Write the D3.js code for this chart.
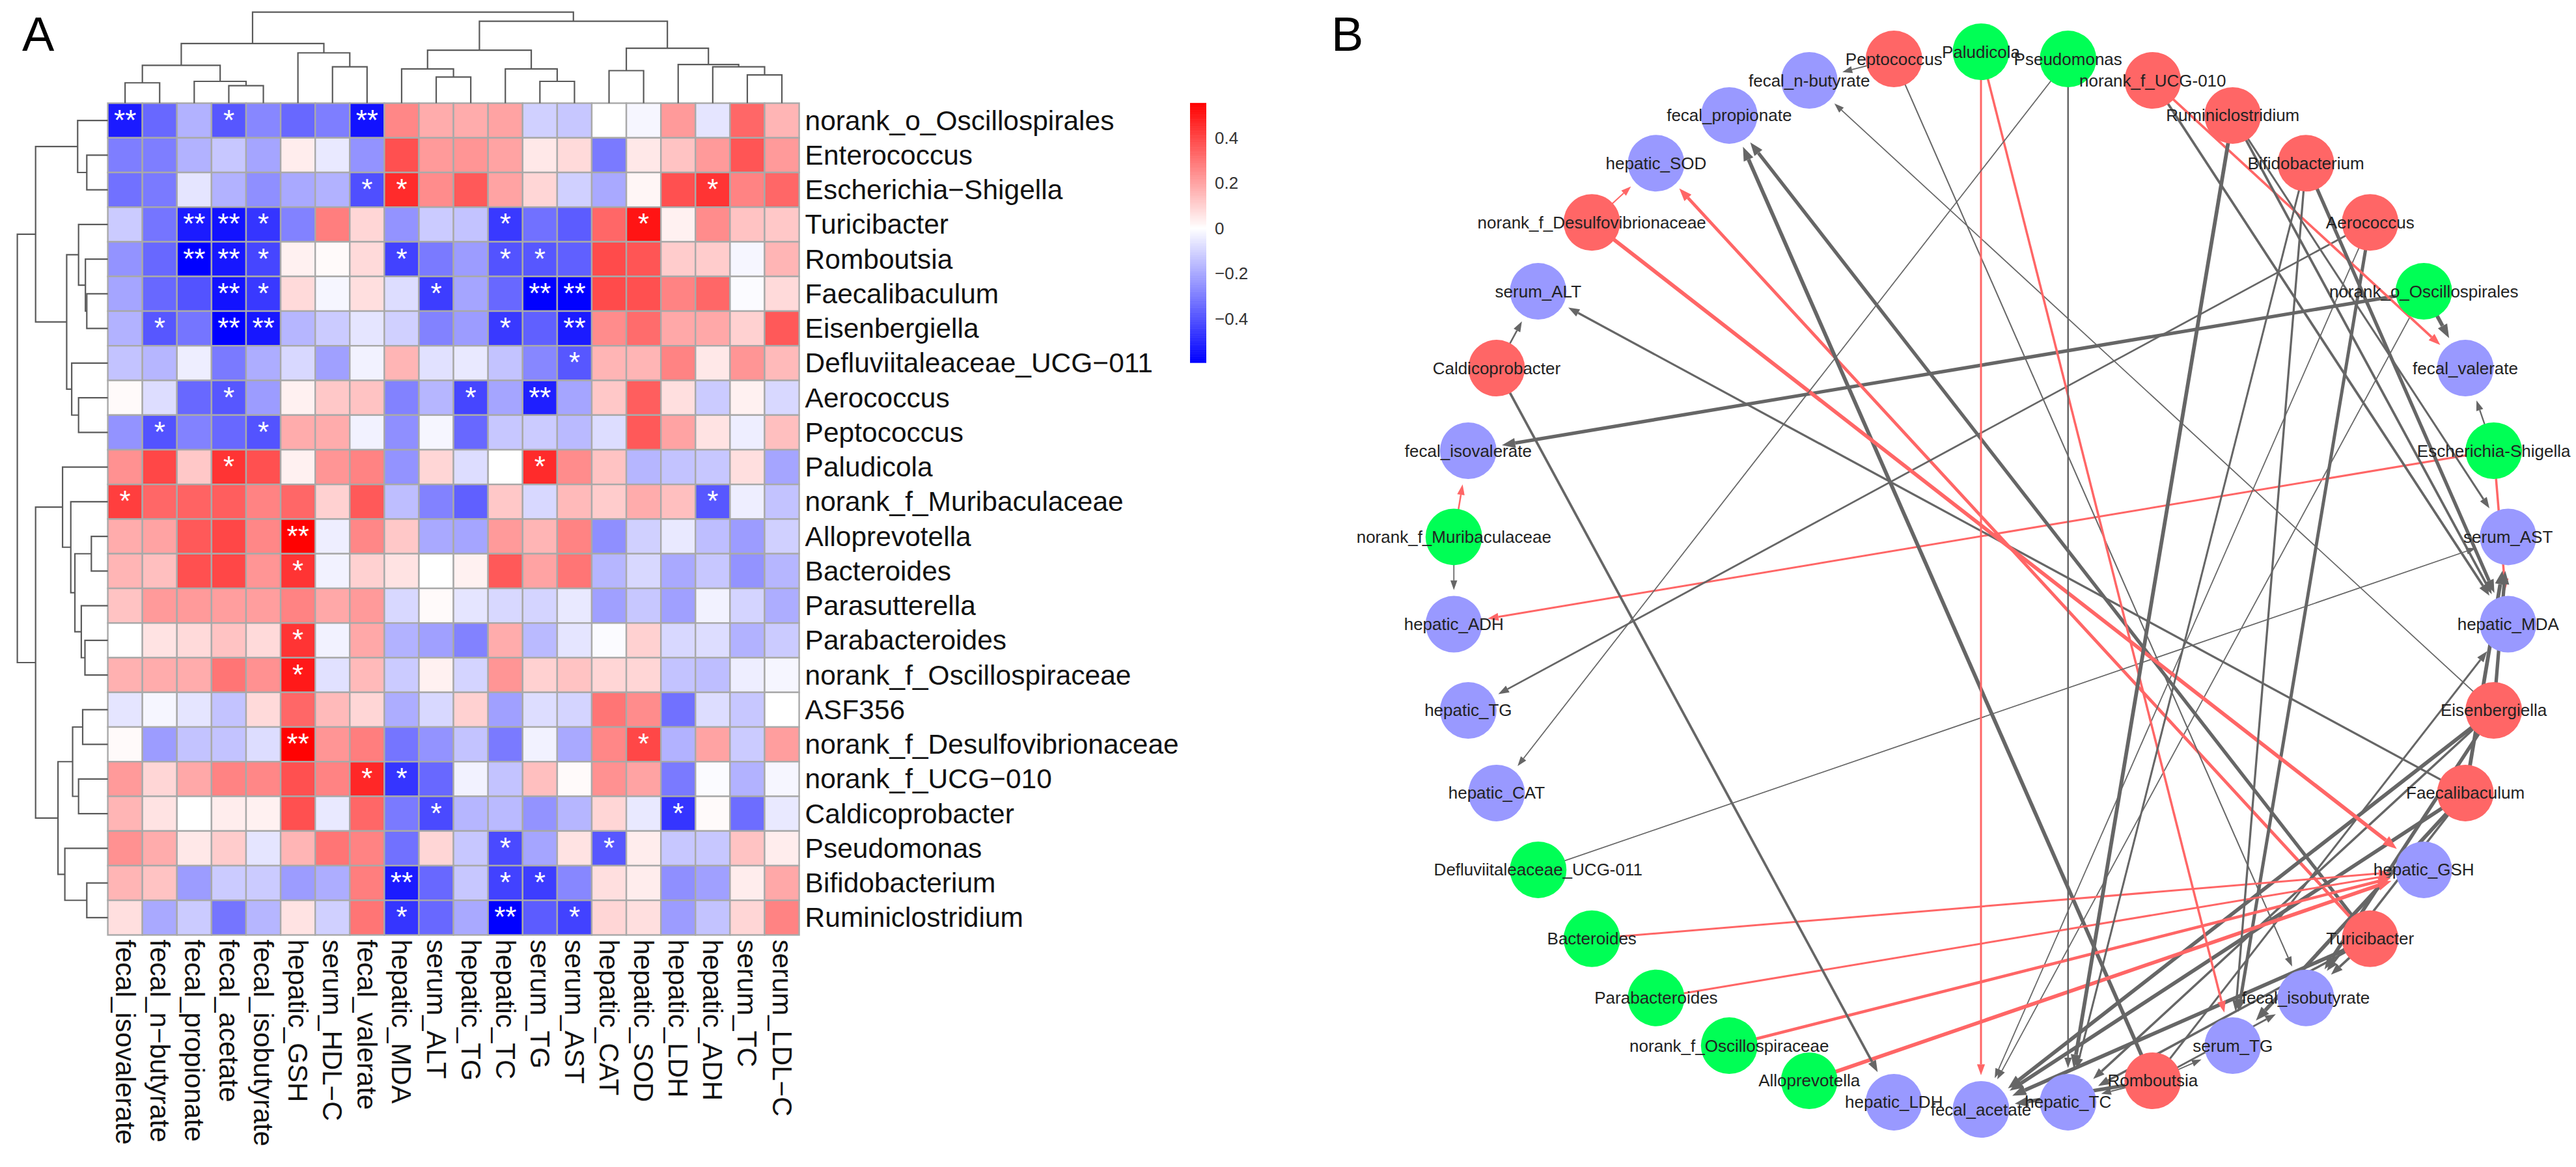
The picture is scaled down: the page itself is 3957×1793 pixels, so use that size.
<!DOCTYPE html>
<html>
<head>
<meta charset="utf-8">
<title>Heatmap and correlation network</title>
<script src="https://cdn.jsdelivr.net/npm/d3@7"></script>
<style>
  html, body { margin: 0; background: #fff; }
  svg { display: block; }
  text { font-family: "Liberation Sans", Arial, sans-serif; }
</style>
</head>
<body>
<svg id="chart" width="3957" height="1793"></svg>
<script>
// heatmap rows, top to bottom
const rowLabels = ["norank_o_Oscillospirales","Enterococcus","Escherichia−Shigella","Turicibacter","Romboutsia",
  "Faecalibaculum","Eisenbergiella","Defluviitaleaceae_UCG−011","Aerococcus","Peptococcus","Paludicola",
  "norank_f_Muribaculaceae","Alloprevotella","Bacteroides","Parasutterella","Parabacteroides",
  "norank_f_Oscillospiraceae","ASF356","norank_f_Desulfovibrionaceae","norank_f_UCG−010","Caldicoprobacter",
  "Pseudomonas","Bifidobacterium","Ruminiclostridium"];

// heatmap columns, left to right
const colLabels = ["fecal_isovalerate","fecal_n−butyrate","fecal_propionate","fecal_acetate","fecal_isobutyrate",
  "hepatic_GSH","serum_HDL−C","fecal_valerate","hepatic_MDA","serum_ALT","hepatic_TG","hepatic_TC","serum_TG",
  "serum_AST","hepatic_CAT","hepatic_SOD","hepatic_LDH","hepatic_ADH","serum_TC","serum_LDL−C"];

// correlations
const values = [
  [-.53,-.35,-.18,-.39,-.28,-.35,-.30,-.55,.26,.18,.18,.20,-.11,-.13,0,-.02,.22,-.06,.33,.16],
  [-.30,-.30,-.18,-.13,-.21,.04,-.05,-.25,.38,.22,.23,.20,.05,.08,-.31,.05,.13,.22,.37,.22],
  [-.33,-.31,-.06,-.18,-.26,-.20,-.18,-.41,.46,.25,.36,.20,.09,-.11,-.20,.02,.38,.44,.27,.33],
  [-.12,-.32,-.53,-.55,-.47,-.29,.28,.09,-.25,-.12,-.14,-.46,-.33,-.38,.33,.51,.03,.25,.13,.12],
  [-.25,-.35,-.59,-.54,-.43,.03,.01,.08,-.44,-.31,-.23,-.40,-.39,-.37,.39,.37,.11,.11,-.02,.16],
  [-.21,-.35,-.40,-.55,-.46,.08,-.02,.07,-.08,-.45,-.21,-.35,-.59,-.59,.39,.38,.27,.33,-.01,.08],
  [-.18,-.39,-.32,-.59,-.54,-.17,-.12,-.06,-.11,-.29,-.23,-.46,-.37,-.53,.25,.32,.19,.19,.10,.36],
  [-.14,-.17,-.04,-.31,-.19,-.09,-.22,-.03,.16,-.07,-.05,-.14,-.28,-.39,.16,.16,.27,.05,.23,.15],
  [.01,-.08,-.35,-.39,-.23,.03,.12,.13,-.29,-.17,-.43,-.21,-.52,-.21,.12,.35,.07,-.12,.03,-.09],
  [-.25,-.40,-.29,-.35,-.40,.18,.18,-.03,-.26,-.02,-.35,-.13,-.12,-.16,-.08,.36,.20,.06,-.04,.14],
  [.24,.40,.12,.44,.38,.03,.23,.27,-.25,.09,-.08,0,.46,.25,.13,-.17,-.14,-.13,.07,-.21],
  [.42,.33,.34,.35,.27,.33,.10,.36,-.15,-.29,-.37,.12,-.09,.15,.11,.18,.14,-.39,-.04,-.14],
  [.18,.20,.36,.40,.26,.55,-.04,.26,.12,-.20,-.21,.22,.16,.27,-.26,-.11,-.05,-.15,-.23,-.11],
  [.16,.14,.38,.40,.23,.44,-.03,.10,.06,0,.03,.36,.20,.30,-.17,-.09,-.20,-.13,-.25,-.17],
  [.13,.22,.22,.21,.21,.27,.19,.22,-.09,.01,-.06,-.09,-.10,-.05,-.22,-.13,-.22,-.03,-.10,-.19],
  [0,.06,.08,.13,.08,.44,-.03,.19,-.18,-.22,-.29,.18,-.16,-.06,-.01,.10,-.09,-.08,-.18,-.12],
  [.17,.18,.18,.30,.24,.50,-.07,.15,-.12,.03,-.10,.23,.10,.13,.09,.09,-.14,-.15,-.04,-.02],
  [-.06,-.02,-.06,-.14,.08,.33,.15,.09,-.19,-.09,.10,-.22,-.08,-.10,.30,.25,-.33,-.08,-.13,0],
  [.01,-.23,-.14,-.14,-.08,.55,.23,.28,-.32,-.25,-.14,-.31,-.03,-.20,.26,.40,-.18,.20,-.12,.21],
  [.22,.09,.19,.27,.26,.38,.27,.47,-.47,-.35,-.03,-.14,.14,.01,.24,.20,-.31,-.01,-.18,-.02],
  [.16,.06,0,.04,.03,.38,-.05,.33,-.31,-.42,-.17,-.16,-.25,-.17,.09,-.05,-.47,.01,-.34,-.05],
  [.24,.18,.05,.11,-.06,.16,.30,.27,-.33,.09,-.13,-.42,-.21,.06,-.39,.04,-.13,-.13,.13,.04],
  [.16,.13,-.23,-.12,-.12,-.23,-.19,.28,-.53,-.35,-.13,-.44,-.45,-.28,.07,.04,-.26,-.22,.04,.19],
  [.07,-.20,-.12,-.32,-.17,.06,-.11,.30,-.47,-.35,-.20,-.59,-.38,-.44,.09,.07,-.23,-.14,.09,.27]
];

// significant cells: row index, column index, number of stars
const starCells = [
  [0,0,2],[0,3,1],[0,7,2],
  [2,7,1],[2,8,1],[2,17,1],
  [3,2,2],[3,3,2],[3,4,1],[3,11,1],[3,15,1],
  [4,2,2],[4,3,2],[4,4,1],[4,8,1],[4,11,1],[4,12,1],
  [5,3,2],[5,4,1],[5,9,1],[5,12,2],[5,13,2],
  [6,1,1],[6,3,2],[6,4,2],[6,11,1],[6,13,2],
  [7,13,1],
  [8,3,1],[8,10,1],[8,12,2],
  [9,1,1],[9,4,1],
  [10,3,1],[10,12,1],
  [11,0,1],[11,17,1],
  [12,5,2],[13,5,1],[15,5,1],[16,5,1],
  [18,5,2],[18,15,1],
  [19,7,1],[19,8,1],
  [20,9,1],[20,16,1],
  [21,11,1],[21,14,1],
  [22,8,2],[22,11,1],[22,12,1],
  [23,8,1],[23,11,2],[23,13,1]
];

// dendrograms as [height, left, right], leaves are the row/column index
const colTree = [3.13,
  [2.05,
    [1.30, [0.70,0,1], [0.75,2,[0.60,3,4]]],
    [1.73, 5, [1.25,6,7]]],
  [2.82,
    [1.82, [1.18,8,[0.90,9,10]], [1.18,11,[0.75,12,13]]],
    [1.89, [1.12,14,15], [1.33,16,[1.25,17,[0.97,18,19]]]]]
];
const rowTree = [1.98,
  [1.58,
    [0.66, 0, [0.46,1,2]],
    [0.90,
      [0.64, 3, [0.49,4,[0.46,5,6]]],
      [0.79, 7, [0.64,8,9]]]],
  [1.58,
    [0.99, 10, [0.81, 11, [0.72, [0.36,12,13], [0.58,14,[0.50,15,16]]]]],
    [1.09,
      [0.77, [0.55,17,18], [0.64,19,20]],
      [0.94, 21, [0.46,22,23]]]]
];

const legendTicks = [0.4, 0.2, 0, -0.2, -0.4];
const legendRange = [-0.593, 0.554];

// network nodes clockwise from the top
const networkNodes = ["Paludicola","Pseudomonas","norank_f_UCG-010","Ruminiclostridium","Bifidobacterium","Aerococcus",
  "norank_o_Oscillospirales","fecal_valerate","Escherichia-Shigella","serum_AST","hepatic_MDA","Eisenbergiella",
  "Faecalibaculum","hepatic_GSH","Turicibacter","fecal_isobutyrate","serum_TG","Romboutsia","hepatic_TC","fecal_acetate",
  "hepatic_LDH","Alloprevotella","norank_f_Oscillospiraceae","Parabacteroides","Bacteroides","Defluviitaleaceae_UCG-011",
  "hepatic_CAT","hepatic_TG","hepatic_ADH","norank_f_Muribaculaceae","fecal_isovalerate","Caldicoprobacter","serum_ALT",
  "norank_f_Desulfovibrionaceae","hepatic_SOD","fecal_propionate","fecal_n-butyrate","Peptococcus"];
const greenNodes = ["Paludicola","Pseudomonas","norank_o_Oscillospirales","Escherichia-Shigella","norank_f_Muribaculaceae",
  "Defluviitaleaceae_UCG-011","Bacteroides","Parabacteroides","norank_f_Oscillospiraceae","Alloprevotella"];
const redNodes = ["norank_f_UCG-010","Ruminiclostridium","Bifidobacterium","Aerococcus","Eisenbergiella","Faecalibaculum",
  "Turicibacter","Romboutsia","Caldicoprobacter","norank_f_Desulfovibrionaceae","Peptococcus"];

const svg = d3.select("#chart");

// ---------- panel letters
svg.append("text").attr("x", 34).attr("y", 78).attr("font-size", 74).text("A");
svg.append("text").attr("x", 2045).attr("y", 78).attr("font-size", 74).text("B");

// ---------- heatmap
const heat = { left: 165.6, top: 158.5, width: 1062, height: 1278 };
const xCell = d3.scaleBand().domain(d3.range(colLabels.length)).range([heat.left, heat.left + heat.width]);
const yCell = d3.scaleBand().domain(d3.range(rowLabels.length)).range([heat.top, heat.top + heat.height]);
const color = d3.scaleLinear().domain([legendRange[0], 0, legendRange[1]]).range(["#0000ff", "#ffffff", "#ff0000"]);

const cells = svg.append("g");
values.forEach((row, r) => {
  cells.selectAll(null)
    .data(row)
    .enter()
    .append("rect")
    .attr("x", (d, c) => xCell(c))
    .attr("y", yCell(r))
    .attr("width", xCell.bandwidth())
    .attr("height", yCell.bandwidth())
    .attr("fill", d => color(d))
    .attr("stroke", "#a9a9a9")
    .attr("stroke-width", 2.4);
});

svg.append("g").selectAll("text")
  .data(starCells)
  .enter()
  .append("text")
  .attr("x", d => xCell(d[1]) + xCell.bandwidth() / 2)
  .attr("y", d => yCell(d[0]) + 41)
  .attr("text-anchor", "middle")
  .attr("font-size", 44)
  .attr("fill", "#fff")
  .text(d => "*".repeat(d[2]));

svg.append("g").selectAll("text")
  .data(rowLabels)
  .enter()
  .append("text")
  .attr("x", heat.left + heat.width + 9)
  .attr("y", (d, i) => yCell(i) + yCell.bandwidth() / 2)
  .attr("dominant-baseline", "central")
  .attr("font-size", 42.5)
  .attr("fill", "#111")
  .text(d => d);

svg.append("g").selectAll("text")
  .data(colLabels)
  .enter()
  .append("text")
  .attr("transform", (d, i) => `translate(${xCell(i) + xCell.bandwidth() / 2},${heat.top + heat.height + 7}) rotate(90)`)
  .attr("dominant-baseline", "central")
  .attr("font-size", 42)
  .attr("fill", "#111")
  .text(d => d);

// ---------- dendrograms
function drawTree(tree, leafPos, heightPos, horizontal) {
  const segs = [];
  const walk = n => {
    if (typeof n === "number") return { p: leafPos(n), h: 0 };
    const a = walk(n[1]), b = walk(n[2]);
    segs.push(horizontal
      ? `M${heightPos(a.h)},${a.p}H${heightPos(n[0])}V${b.p}H${heightPos(b.h)}`
      : `M${a.p},${heightPos(a.h)}V${heightPos(n[0])}H${b.p}V${heightPos(b.h)}`);
    return { p: (a.p + b.p) / 2, h: n[0] };
  };
  walk(tree);
  svg.append("g").selectAll("path")
    .data(segs)
    .enter()
    .append("path")
    .attr("d", d => d)
    .attr("fill", "none")
    .attr("stroke", "#5a5a5a")
    .attr("stroke-width", 2.2);
}
const colTreeY = d3.scaleLinear().domain([0, 3.13]).range([heat.top, 18.7]);
const rowTreeX = d3.scaleLinear().domain([0, 1.98]).range([heat.left, 26.6]);
drawTree(colTree, i => xCell(i) + xCell.bandwidth() / 2, colTreeY, false);
drawTree(rowTree, i => yCell(i) + yCell.bandwidth() / 2, rowTreeX, true);

// ---------- colour legend
const legendY = d3.scaleLinear().domain(legendRange).range([557, 158.5]);
const legendBar = svg.append("g");
legendBar.selectAll("rect")
  .data(d3.range(legendRange[0], legendRange[1], 0.004))
  .enter()
  .append("rect")
  .attr("x", 1828)
  .attr("y", d => legendY(d + 0.004))
  .attr("width", 25)
  .attr("height", Math.abs(legendY(0.004) - legendY(0)) + 0.6)
  .attr("fill", d => color(d));

const legendAxis = svg.append("g")
  .attr("transform", "translate(1853,0)")
  .call(d3.axisRight(legendY).tickValues(legendTicks).tickSize(0).tickPadding(13).tickFormat(d3.format("")));
legendAxis.select(".domain").remove();
legendAxis.selectAll("text").attr("font-size", 26).attr("font-family", "Liberation Sans").attr("fill", "#333");

// ---------- network
const net = { cx: 3043, cy: 892, radius: 812.5, node: 43.5 };
const angle = d3.scaleBand().domain(networkNodes).range([0, 2 * Math.PI]);
const nodePos = name => {
  const [x, y] = d3.pointRadial(angle(name), net.radius);
  return [net.cx + x, net.cy + y];
};
const netName = s => s.replace("−", "-");

// one edge per starred cell, taxon -> measured variable
const edges = starCells.map(d => ({
  source: netName(rowLabels[d[0]]),
  target: netName(colLabels[d[1]]),
  value: values[d[0]][d[1]]
}));
const edgeWidth = d3.scaleLinear().domain([0.38, 0.55]).range([1.5, 5.8]).clamp(true);

const edgeG = svg.append("g");
edges.forEach(e => {
  const [x1, y1] = nodePos(e.source);
  const [x2, y2] = nodePos(e.target);
  const len = Math.hypot(x2 - x1, y2 - y1);
  const ux = (x2 - x1) / len, uy = (y2 - y1) / len;
  const w = edgeWidth(Math.abs(e.value));
  const stroke = e.value > 0 ? "#ff6666" : "#666666";
  const head = 12 + w * 1.6, half = 4 + w * 0.7;
  const tipX = x2 - ux * (net.node + 9), tipY = y2 - uy * (net.node + 9);
  const baseX = tipX - ux * head, baseY = tipY - uy * head;
  edgeG.append("line")
    .attr("x1", x1).attr("y1", y1)
    .attr("x2", baseX).attr("y2", baseY)
    .attr("stroke", stroke)
    .attr("stroke-width", w);
  edgeG.append("path")
    .attr("d", `M${tipX},${tipY}L${baseX - uy * half},${baseY + ux * half}L${baseX + uy * half},${baseY - ux * half}Z`)
    .attr("fill", stroke);
});

const nodeColor = name => greenNodes.includes(name) ? "#00ff55" : redNodes.includes(name) ? "#ff6666" : "#9999ff";
svg.append("g").selectAll("circle")
  .data(networkNodes)
  .enter()
  .append("circle")
  .attr("cx", d => nodePos(d)[0])
  .attr("cy", d => nodePos(d)[1])
  .attr("r", net.node)
  .attr("fill", d => nodeColor(d));

svg.append("g").selectAll("text")
  .data(networkNodes)
  .enter()
  .append("text")
  .attr("x", d => nodePos(d)[0])
  .attr("y", d => nodePos(d)[1])
  .attr("text-anchor", "middle")
  .attr("dominant-baseline", "central")
  .attr("font-size", 26)
  .attr("fill", "#222")
  .text(d => d);
</script>
</body>
</html>
